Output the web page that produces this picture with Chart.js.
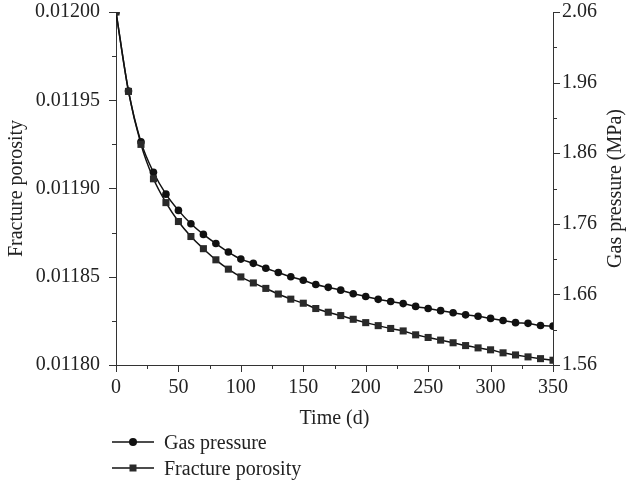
<!DOCTYPE html>
<html>
<head>
<meta charset="utf-8">
<script src="https://cdn.jsdelivr.net/npm/chart.js@4/dist/chart.umd.min.js"></script>
<style>
  body { margin: 0; background: #fff; }
  #wrap { position: relative; width: 626px; height: 485px; }
  .legend-row {
    position: absolute;
    left: 110px;
    height: 26px;
    display: flex;
    align-items: center;
    font-family: "Liberation Serif", "DejaVu Serif", serif;
    font-size: 20px;
    color: #222;
  }
  .legend-row svg { margin-right: 8px; }
</style>
</head>
<body>
<div id="wrap">
  <canvas id="chart" width="626" height="485"></canvas>
  <div class="legend-row" style="top: 429px;">
    <svg width="46" height="12"><line x1="2" y1="6" x2="44" y2="6" stroke="#111" stroke-width="1.5"/><circle cx="23" cy="6" r="4" fill="#111"/></svg>
    <span>Gas pressure</span>
  </div>
  <div class="legend-row" style="top: 455px;">
    <svg width="46" height="12"><line x1="2" y1="6" x2="44" y2="6" stroke="#111" stroke-width="1.5"/><rect x="19.5" y="2.5" width="7" height="7" fill="#2a2a2a"/></svg>
    <span>Fracture porosity</span>
  </div>
</div>
<script>
// Data
const timeDays = [0, 10, 20, 30, 40, 50, 60, 70, 80, 90, 100, 110, 120, 130, 140, 150, 160, 170,
  180, 190, 200, 210, 220, 230, 240, 250, 260, 270, 280, 290, 300, 310, 320, 330, 340, 350];

// Gas pressure (MPa), right axis
const gasPressure = [2.060, 1.948, 1.876, 1.833, 1.802, 1.779, 1.760, 1.745, 1.732, 1.720,
  1.710, 1.704, 1.697, 1.691, 1.685, 1.680, 1.674, 1.670, 1.666, 1.661,
  1.657, 1.653, 1.650, 1.647, 1.643, 1.640, 1.637, 1.634, 1.631, 1.629,
  1.626, 1.623, 1.620, 1.619, 1.616, 1.615];

// Fracture porosity, left axis
const fracturePorosity = [0.0120000, 0.0119550, 0.0119250, 0.0119055, 0.0118920, 0.0118813,
  0.0118728, 0.0118659, 0.0118596, 0.0118543, 0.0118499, 0.0118465, 0.0118434, 0.0118402,
  0.0118373, 0.0118350, 0.0118320, 0.0118299, 0.0118280, 0.0118259, 0.0118240, 0.0118223,
  0.0118207, 0.0118193, 0.0118171, 0.0118156, 0.0118141, 0.0118126, 0.0118110, 0.0118097,
  0.0118086, 0.0118069, 0.0118057, 0.0118046, 0.0118036, 0.0118027];

const FONT = '"Liberation Serif", "DejaVu Serif", serif';
const AXIS_COLOR = '#333';
const TEXT_COLOR = '#222';

function isMultiple(value, step) {
  const r = value / step;
  return Math.abs(r - Math.round(r)) < 1e-6;
}

// Draws major/minor tick marks outside the axes
const tickMarks = {
  id: 'tickMarks',
  afterDraw(chart) {
    const { ctx } = chart;
    ctx.save();
    ctx.strokeStyle = AXIS_COLOR;
    ctx.lineWidth = 1;
    ['x', 'y', 'y1'].forEach(id => {
      const scale = chart.scales[id];
      scale.ticks.forEach(t => {
        const p = Math.round(scale.getPixelForValue(t.value)) + 0.5;
        const len = t.label === '' ? 4 : 7;
        ctx.beginPath();
        if (id === 'x') {
          ctx.moveTo(p, scale.top);
          ctx.lineTo(p, scale.top + len);
        } else if (id === 'y') {
          ctx.moveTo(scale.right, p);
          ctx.lineTo(scale.right - len, p);
        } else {
          ctx.moveTo(scale.left, p);
          ctx.lineTo(scale.left + len, p);
        }
        ctx.stroke();
      });
    });
    ctx.restore();
  }
};

// Right axis title reads bottom-to-top like the left one
const rightTitle = {
  id: 'rightTitle',
  afterDraw(chart) {
    const { ctx, chartArea } = chart;
    ctx.save();
    ctx.translate(616, (chartArea.top + chartArea.bottom) / 2);
    ctx.rotate(-Math.PI / 2);
    ctx.font = '20px ' + FONT;
    ctx.fillStyle = TEXT_COLOR;
    ctx.textAlign = 'center';
    ctx.textBaseline = 'middle';
    ctx.fillText('Gas pressure (MPa)', 0, 0);
    ctx.restore();
  }
};

const ctx = document.getElementById('chart').getContext('2d');

new Chart(ctx, {
  type: 'line',
  data: {
    datasets: [
      {
        label: 'Fracture porosity',
        data: timeDays.map((t, i) => ({ x: t, y: fracturePorosity[i] })),
        yAxisID: 'y',
        borderColor: '#111',
        borderWidth: 1.5,
        pointStyle: 'rect',
        pointRadius: 5,
        pointBackgroundColor: '#2a2a2a',
        pointBorderWidth: 0,
        cubicInterpolationMode: 'monotone'
      },
      {
        label: 'Gas pressure',
        data: timeDays.map((t, i) => ({ x: t, y: gasPressure[i] })),
        yAxisID: 'y1',
        borderColor: '#111',
        borderWidth: 1.5,
        pointStyle: 'circle',
        pointRadius: 3.8,
        pointBackgroundColor: '#111',
        pointBorderWidth: 0,
        cubicInterpolationMode: 'monotone'
      }
    ]
  },
  options: {
    responsive: false,
    animation: false,
    layout: { padding: { top: 12, left: 0, right: 0, bottom: 56 } },
    plugins: {
      legend: { display: false },
      tooltip: { enabled: false }
    },
    scales: {
      x: {
        type: 'linear',
        min: 0,
        max: 350,
        grid: { display: false, drawTicks: false },
        border: { display: true, color: AXIS_COLOR, width: 1 },
        ticks: {
          stepSize: 25,
          padding: 11,
          maxRotation: 0,
          autoSkip: false,
          color: TEXT_COLOR,
          font: { family: FONT, size: 20 },
          callback: v => (isMultiple(v, 50) ? String(v) : '')
        },
        title: {
          display: true,
          text: 'Time (d)',
          color: TEXT_COLOR,
          font: { family: FONT, size: 20, lineHeight: 1 },
          padding: { top: 0, bottom: 0 }
        },
        afterFit(scale) { scale.height = 64; }
      },
      y: {
        position: 'left',
        min: 0.0118,
        max: 0.0120,
        grid: { display: false, drawTicks: false },
        border: { display: true, color: AXIS_COLOR, width: 1 },
        ticks: {
          stepSize: 0.000025,
          padding: 16,
          autoSkip: false,
          color: TEXT_COLOR,
          font: { family: FONT, size: 20 },
          callback: v => (isMultiple(v, 0.00005) ? v.toFixed(5) : '')
        },
        title: {
          display: true,
          text: 'Fracture porosity',
          color: TEXT_COLOR,
          font: { family: FONT, size: 20, lineHeight: 1 },
          padding: { top: 7, bottom: 0 }
        },
        afterFit(scale) {
          scale.width = 116;
          scale.paddingTop = 0;
          scale.paddingBottom = 0;
        }
      },
      y1: {
        position: 'right',
        min: 1.56,
        max: 2.06,
        grid: { display: false, drawTicks: false },
        border: { display: true, color: AXIS_COLOR, width: 1 },
        ticks: {
          stepSize: 0.05,
          padding: 9,
          autoSkip: false,
          color: TEXT_COLOR,
          font: { family: FONT, size: 20 },
          callback: v => (isMultiple(v - 1.56, 0.1) ? v.toFixed(2) : '')
        },
        title: { display: false },
        afterFit(scale) {
          scale.width = 73;
          scale.paddingTop = 0;
          scale.paddingBottom = 0;
        }
      }
    }
  },
  plugins: [tickMarks, rightTitle]
});
</script>
</body>
</html>
